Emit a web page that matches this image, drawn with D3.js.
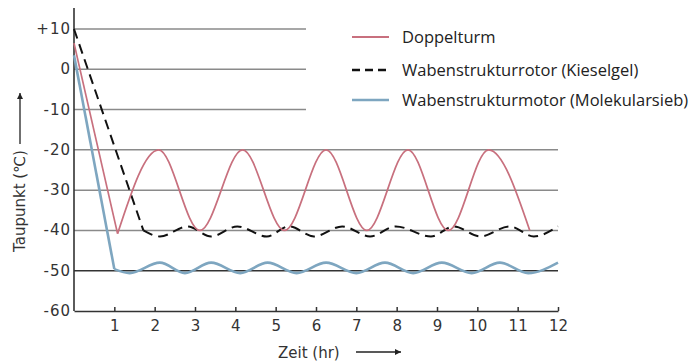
<!DOCTYPE html>
<html>
<head>
<meta charset="utf-8">
<script src="https://cdn.jsdelivr.net/npm/d3@7"></script>
<style>
  body { margin: 0; background: #fff; }
  svg { display: block; }
</style>
</head>
<body>
<div id="chart"></div>
<script>
// tick labels
const xTicks = [1, 2, 3, 4, 5, 6, 7, 8, 9, 10, 11, 12];
const yTicks = [10, 0, -10, -20, -30, -40, -50, -60];
const shortGrid = [10, 0, -10];   // these stop before the legend
const longGrid = [-20, -30, -40];

// series: [hour, dew point]
const doppelRamp = [[0, 6.5], [1.08, -40.8]];
const doppelWave = [[1.08, -40.8], [2.1, -20], [3.12, -40], [4.18, -20], [5.22, -40], [6.25, -20],
  [7.26, -40], [8.28, -20], [9.28, -40], [10.28, -20], [11.3, -40]];

const kieselRamp = [[0, 10], [1.72, -40]];
const kieselWave = [[1.72, -40], [2.13, -41.5], [2.82, -39], [3.4, -41.5], [4.05, -39], [4.78, -41.5],
  [5.33, -39], [5.95, -41.5], [6.65, -39], [7.34, -41.5], [7.98, -39], [8.85, -41.5], [9.42, -39],
  [10.07, -41.5], [10.8, -39], [11.4, -41.5], [12, -39]];

const molRamp = [[0, 3.5], [1.0, -49.6]];
const molWave = [[1.0, -49.6], [1.38, -50.6], [2.13, -48], [2.75, -50.6], [3.4, -48], [4.12, -50.6],
  [4.8, -48], [5.52, -50.6], [6.25, -48], [7.0, -50.6], [7.71, -48], [8.41, -50.6], [9.12, -48],
  [9.86, -50.6], [10.56, -48], [11.26, -50.6], [12, -48]];

const legendLabels = ["Doppelturm", "Wabenstrukturrotor (Kieselgel)", "Wabenstrukturmotor (Molekularsieb)"];

const W = 693, H = 363;
const red = "#c8707e", blue = "#7ea6c0", dark = "#222";
const axisFont = "DejaVu Sans, sans-serif";

const svg = d3.select("#chart").append("svg")
  .attr("width", W).attr("height", H);

const x = d3.scaleLinear().domain([0, 12]).range([74, 558]);
const y = d3.scaleLinear().domain([-60, 10]).range([311, 29]);

const defs = svg.append("defs");
defs.append("marker")
  .attr("id", "arrow")
  .attr("viewBox", "0 0 10 10")
  .attr("refX", 10).attr("refY", 5)
  .attr("markerWidth", 14).attr("markerHeight", 6)
  .attr("markerUnits", "userSpaceOnUse")
  .attr("orient", "auto")
  .append("path")
  .attr("d", "M0,0L10,5L0,10Z")
  .attr("fill", dark);

// gridlines
const grid = svg.append("g");
grid.selectAll(".gs").data(shortGrid).join("line")
  .attr("x1", x(0)).attr("x2", 306)
  .attr("y1", d => y(d)).attr("y2", d => y(d))
  .attr("stroke", "#8a8a8a").attr("stroke-width", 1.5);
grid.selectAll(".gl").data(longGrid).join("line")
  .attr("x1", x(0)).attr("x2", x(12))
  .attr("y1", d => y(d)).attr("y2", d => y(d))
  .attr("stroke", "#8a8a8a").attr("stroke-width", 1.5);
grid.append("line")
  .attr("x1", x(0)).attr("x2", x(12))
  .attr("y1", y(-50)).attr("y2", y(-50))
  .attr("stroke", "#333").attr("stroke-width", 1.6);

// axes
svg.append("line")
  .attr("x1", x(0)).attr("x2", x(0))
  .attr("y1", 8).attr("y2", y(-60))
  .attr("stroke", "#333").attr("stroke-width", 1.6);

const xAxis = svg.append("g")
  .attr("transform", `translate(0,${y(-60)})`)
  .call(d3.axisBottom(x).tickValues(xTicks).tickSizeInner(-4).tickSizeOuter(0).tickPadding(9));
xAxis.select(".domain").attr("stroke", "#333").attr("stroke-width", 1.6);
xAxis.selectAll(".tick line").attr("stroke", "#333").attr("stroke-width", 1.5);
xAxis.selectAll(".tick text")
  .attr("font-family", axisFont).attr("font-size", 15).attr("fill", "#333");

svg.append("g").selectAll("text").data(yTicks).join("text")
  .attr("x", 71).attr("y", d => y(d) + 5)
  .attr("text-anchor", "end")
  .attr("font-family", axisFont).attr("font-size", 15)
  .attr("letter-spacing", 1).attr("fill", "#333")
  .text(d => d > 0 ? "+" + d : d);

// axis titles
svg.append("text")
  .attr("x", 278).attr("y", 358)
  .attr("font-family", axisFont).attr("font-size", 15).attr("fill", "#333")
  .text("Zeit (hr)");
svg.append("line")
  .attr("x1", 356).attr("x2", 401).attr("y1", 352).attr("y2", 352)
  .attr("stroke", dark).attr("stroke-width", 1.3)
  .attr("marker-end", "url(#arrow)");

svg.append("text")
  .attr("transform", "translate(25,201) rotate(-90)")
  .attr("text-anchor", "middle")
  .attr("font-family", axisFont).attr("font-size", 15).attr("fill", "#333")
  .text("Taupunkt (℃)");
svg.append("line")
  .attr("x1", 20).attr("x2", 20).attr("y1", 144).attr("y2", 93)
  .attr("stroke", dark).attr("stroke-width", 1.3)
  .attr("marker-end", "url(#arrow)");

// series
const straight = d3.line().x(d => x(d[0])).y(d => y(d[1]));
const smooth = d3.line().x(d => x(d[0])).y(d => y(d[1])).curve(d3.curveMonotoneX);

const series = [
  {ramp: kieselRamp, wave: kieselWave, color: "#111", width: 2, dash: "10,6"},
  {ramp: doppelRamp, wave: doppelWave, color: red, width: 1.7, dash: null},
  {ramp: molRamp, wave: molWave, color: blue, width: 2.6, dash: null}
];
series.forEach(s => {
  [straight(s.ramp), smooth(s.wave)].forEach(d => {
    svg.append("path")
      .attr("d", d)
      .attr("fill", "none")
      .attr("stroke", s.color)
      .attr("stroke-width", s.width)
      .attr("stroke-dasharray", s.dash);
  });
});

// legend
const legendStyle = [
  {color: red, width: 2, dash: null, y: 37},
  {color: "#111", width: 2.4, dash: "8,5", y: 70},
  {color: blue, width: 2.6, dash: null, y: 100}
];
const lg = svg.append("g");
legendLabels.forEach((lab, i) => {
  const st = legendStyle[i];
  lg.append("line")
    .attr("x1", 352).attr("x2", 389).attr("y1", st.y).attr("y2", st.y)
    .attr("stroke", st.color).attr("stroke-width", st.width)
    .attr("stroke-dasharray", st.dash);
  lg.append("text")
    .attr("x", 402).attr("y", st.y + 5.5)
    .attr("font-family", "Open Sans, sans-serif").attr("font-size", 16.5).attr("fill", "#222")
    .text(lab);
});
</script>
</body>
</html>
